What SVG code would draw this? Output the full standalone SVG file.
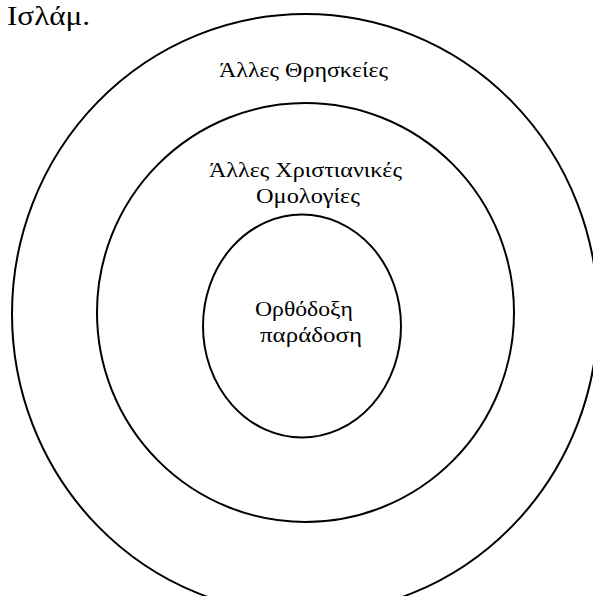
<svg xmlns="http://www.w3.org/2000/svg" width="593" height="596" viewBox="0 0 593 596">
<style>
.ring{fill:none;stroke:#000;stroke-width:2}
.t{font-family:"Liberation Serif","Times New Roman",serif;font-size:20px;fill:#000}
</style>
<rect width="593" height="596" fill="#fff"/>
<text class="t" x="7" y="25" style="font-size:28px" textLength="83" lengthAdjust="spacingAndGlyphs">Ισλάμ.</text>
<g id="outer">
<ellipse class="ring" cx="305" cy="314" rx="293" ry="300"/>
<text class="t" x="219" y="77" textLength="169" lengthAdjust="spacingAndGlyphs">Άλλες Θρησκείες</text>
</g>
<g id="middle">
<ellipse class="ring" cx="305.5" cy="312.5" rx="208.5" ry="209.5"/>
<text class="t" x="209" y="177" textLength="193" lengthAdjust="spacingAndGlyphs">Άλλες Χριστιανικές</text>
<text class="t" x="256" y="203" textLength="104" lengthAdjust="spacingAndGlyphs">Ομολογίες</text>
</g>
<g id="inner">
<ellipse class="ring" cx="302" cy="326" rx="99" ry="111.5"/>
<text class="t" x="255" y="316" textLength="98" lengthAdjust="spacingAndGlyphs">Ορθόδοξη</text>
<text class="t" x="260" y="342" textLength="102" lengthAdjust="spacingAndGlyphs">παράδοση</text>
</g>
<g id="connectors"></g>
</svg>
